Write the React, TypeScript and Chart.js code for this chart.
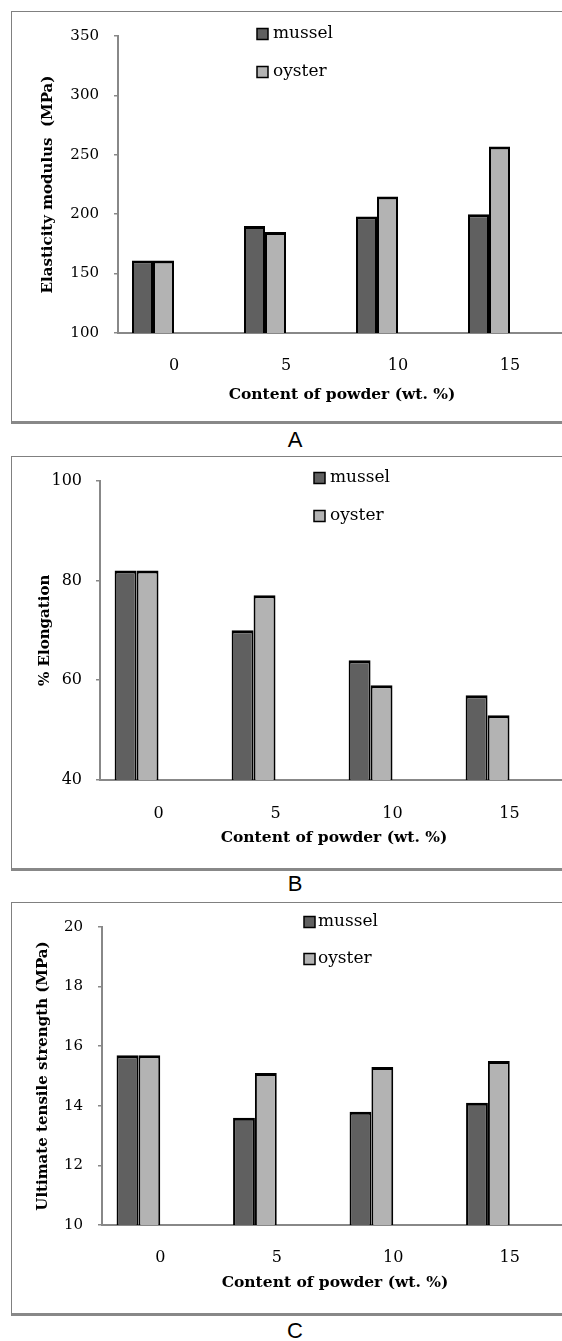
import React, { useEffect, useRef } from 'react';
import { Chart, registerables } from 'chart.js';

Chart.register(...registerables);

// ---------- data ----------
const categories = ['0', '5', '10', '15'];
const seriesNames = ['mussel', 'oyster'];
const seriesColors = ['#606060', '#b3b3b3'];

const modulusMussel = [161, 190, 198, 200];
const modulusOyster = [161, 185, 215, 257];
const modulusAxis = [100, 350, 50]; // min, max, step

const elongationMussel = [82, 70, 64, 57];
const elongationOyster = [82, 77, 59, 53];
const elongationAxis = [40, 100, 20];

const strengthMussel = [15.7, 13.6, 13.8, 14.1];
const strengthOyster = [15.7, 15.1, 15.3, 15.5];
const strengthAxis = [10, 20, 2];

const xTitle = 'Content of powder (wt. %)';
const yTitles = ['Elasticity modulus  (MPa)', '% Elongation', 'Ultimate tensile strength (MPa)'];
const captions = ['A', 'B', 'C'];

const SERIF = '"DejaVu Serif", "Liberation Serif", serif';

const insideLegend = {
  id: 'insideLegend',
  afterDraw(chart: any, _args: any, opts: any) {
    const { ctx } = chart;
    ctx.save();
    ctx.font = `${opts.size}px ${SERIF}`;
    ctx.textBaseline = 'middle';
    ctx.textAlign = 'left';
    let row = 0;
    chart.data.datasets.forEach((ds: any) => {
      if (!ds.label) return;
      const y = opts.y + row * opts.gap;
      const b = opts.box;
      ctx.fillStyle = ds.backgroundColor;
      ctx.fillRect(opts.x, y - b / 2, b, b);
      ctx.lineWidth = 1.5;
      ctx.strokeStyle = '#000';
      ctx.strokeRect(opts.x, y - b / 2, b, b);
      ctx.fillStyle = '#000';
      ctx.fillText(ds.label, opts.textX, y);
      row++;
    });
    ctx.restore();
  },
};

type PanelCfg = {
  top: number;
  bottom: number;
  chartLeft: number;
  chartRight: number;
  chartTop: number;
  chartBottom: number;
  mussel: number[];
  oyster: number[];
  axis: number[];
  yTitle: string;
  yTitleX: number;
  xLabelY: number;
  xTitleY: number;
  yTickFont: number;
  xTickFont: number;
  yTickRightGap: number;
  legendX: number;
  legendTextX: number;
  legendY: number;
  legendGap: number;
  legendSize: number;
  caption: string;
  captionY: number;
};

const PANEL_LEFT = 11;
const CANVAS_W = 556;

function Panel({ cfg }: { cfg: PanelCfg }) {
  const ref = useRef<HTMLCanvasElement>(null);
  const canvasTop = cfg.top + 1;
  const canvasLeft = PANEL_LEFT + 1;
  const canvasH = cfg.bottom - 3 - canvasTop;

  useEffect(() => {
    if (!ref.current) return;
    const yTitleFont = 15;
    const xTitleFont = 15.5;
    const lhY = yTitleFont * 1.2;
    const lhX = xTitleFont * 1.2;
    const xTickLh = cfg.xTickFont * 1.2;
    const chart = new Chart(ref.current, {
      type: 'bar',
      data: {
        labels: categories,
        datasets: [
          { label: seriesNames[0], data: cfg.mussel, backgroundColor: seriesColors[0] },
          { label: seriesNames[1], data: cfg.oyster, backgroundColor: seriesColors[1] },
          { label: '', data: [], backgroundColor: 'rgba(0,0,0,0)' },
          { label: '', data: [], backgroundColor: 'rgba(0,0,0,0)' },
        ].map((d) => ({
          ...d,
          borderColor: '#000',
          borderWidth: { top: 3, left: 2, right: 2, bottom: 0 },
          borderSkipped: false,
          categoryPercentage: 0.75,
          barPercentage: 1,
        })) as any,
      },
      options: {
        responsive: false,
        animation: false,
        layout: {
          padding: {
            left: 0,
            top: cfg.chartTop - canvasTop,
            right: CANVAS_W - (cfg.chartRight - canvasLeft),
            bottom: 0,
          },
        },
        plugins: {
          legend: { display: false },
          tooltip: { enabled: false },
          insideLegend: {
            x: cfg.legendX - canvasLeft,
            textX: cfg.legendTextX - canvasLeft,
            y: cfg.legendY - canvasTop,
            gap: cfg.legendGap,
            box: 11,
            size: cfg.legendSize,
          },
        } as any,
        scales: {
          x: {
            type: 'category',
            offset: true,
            grid: { display: false },
            border: { display: true, color: '#888', width: 2 },
            ticks: {
              color: '#000',
              font: { family: SERIF, size: cfg.xTickFont },
              padding: cfg.xLabelY - cfg.chartBottom - xTickLh / 2,
              maxRotation: 0,
            },
            title: {
              display: true,
              text: xTitle,
              color: '#000',
              font: { family: SERIF, size: xTitleFont, weight: 'bold' },
              padding: { top: 0, bottom: canvasH - (cfg.xTitleY - canvasTop) - lhX / 2 },
            },
            afterFit: (scale: any) => {
              scale.height = canvasH - (cfg.chartBottom - canvasTop);
            },
          },
          y: {
            min: cfg.axis[0],
            max: cfg.axis[1],
            grid: {
              drawOnChartArea: false,
              drawTicks: true,
              tickLength: 4,
              color: '#888',
              lineWidth: 1.5,
            },
            border: { display: true, color: '#888', width: 2 },
            ticks: {
              stepSize: cfg.axis[2],
              color: '#000',
              font: { family: SERIF, size: cfg.yTickFont },
              padding: cfg.yTickRightGap - 4,
            },
            title: {
              display: true,
              text: cfg.yTitle,
              color: '#000',
              font: { family: SERIF, size: yTitleFont, weight: 'bold' },
              padding: { top: cfg.yTitleX - canvasLeft - lhY / 2, bottom: 0 },
            },
            afterFit: (scale: any) => {
              scale.width = cfg.chartLeft - canvasLeft;
            },
          },
        },
      } as any,
      plugins: [insideLegend],
    });
    return () => chart.destroy();
  }, []);

  return (
    <>
      <div
        style={{
          position: 'absolute',
          left: PANEL_LEFT,
          top: cfg.top,
          width: 600,
          height: cfg.bottom - cfg.top,
          boxSizing: 'border-box',
          borderTop: '1px solid #808080',
          borderLeft: '1px solid #808080',
          borderBottom: '3px solid #888888',
        }}
      >
        <canvas
          ref={ref}
          width={CANVAS_W}
          height={canvasH}
          style={{ position: 'absolute', left: 0, top: 0, width: CANVAS_W, height: canvasH }}
        />
      </div>
      <div
        style={{
          position: 'absolute',
          left: 195,
          width: 200,
          top: cfg.captionY - 13,
          height: 26,
          lineHeight: '26px',
          textAlign: 'center',
          fontFamily: '"Liberation Sans", Arial, sans-serif',
          fontSize: 22,
          color: '#000',
        }}
      >
        {cfg.caption}
      </div>
    </>
  );
}

const panels: PanelCfg[] = [
  {
    top: 11, bottom: 424,
    chartLeft: 118, chartRight: 566, chartTop: 22, chartBottom: 333,
    mussel: modulusMussel, oyster: modulusOyster, axis: modulusAxis,
    yTitle: yTitles[0], yTitleX: 48, xLabelY: 358, xTitleY: 395,
    yTickFont: 15, xTickFont: 16, yTickRightGap: 19,
    legendX: 257, legendTextX: 273, legendY: 34, legendGap: 38, legendSize: 17,
    caption: captions[0], captionY: 440,
  },
  {
    top: 456, bottom: 871,
    chartLeft: 100, chartRight: 568, chartTop: 469, chartBottom: 780,
    mussel: elongationMussel, oyster: elongationOyster, axis: elongationAxis,
    yTitle: yTitles[1], yTitleX: 45, xLabelY: 806, xTitleY: 838,
    yTickFont: 16, xTickFont: 16, yTickRightGap: 18,
    legendX: 314, legendTextX: 330, legendY: 478, legendGap: 38, legendSize: 17,
    caption: captions[1], captionY: 884,
  },
  {
    top: 902, bottom: 1316,
    chartLeft: 102, chartRight: 568, chartTop: 913, chartBottom: 1225,
    mussel: strengthMussel, oyster: strengthOyster, axis: strengthAxis,
    yTitle: yTitles[2], yTitleX: 43, xLabelY: 1250, xTitleY: 1283,
    yTickFont: 15, xTickFont: 16, yTickRightGap: 19,
    legendX: 304, legendTextX: 318, legendY: 922, legendGap: 37, legendSize: 17,
    caption: captions[2], captionY: 1331,
  },
];

export default function App() {
  return (
    <div
      style={{
        position: 'absolute',
        left: 0,
        top: 0,
        width: 562,
        height: 1341,
        overflow: 'hidden',
        background: '#fff',
      }}
    >
      {panels.map((p, i) => (
        <Panel key={i} cfg={p} />
      ))}
    </div>
  );
}
